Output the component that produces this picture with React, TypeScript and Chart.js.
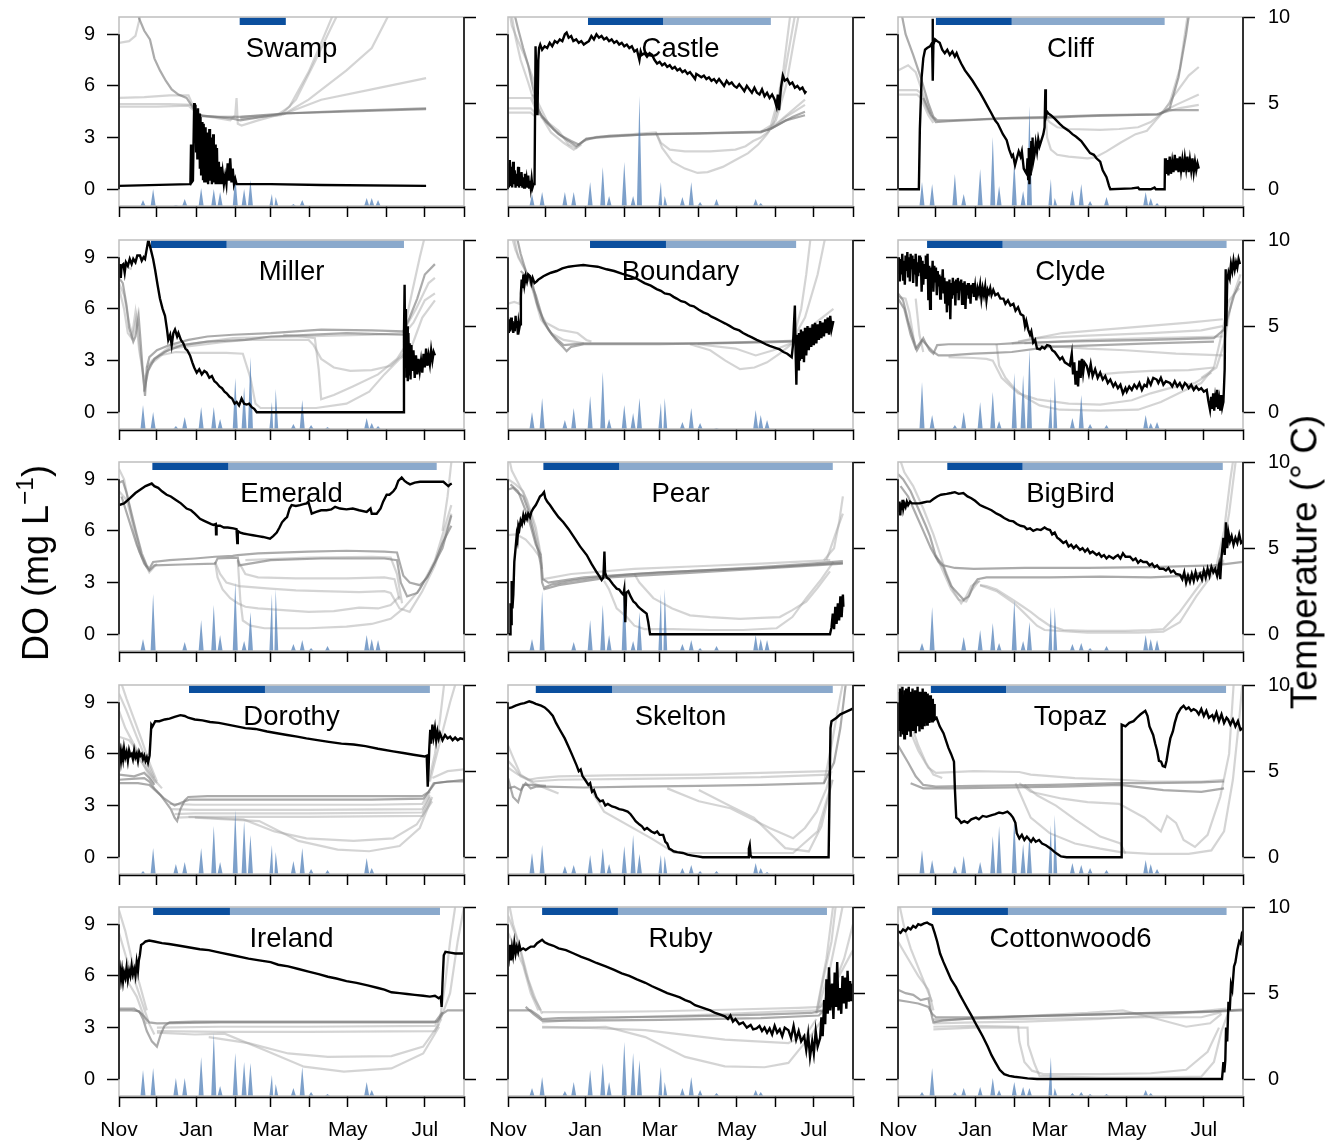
import React, { useEffect, useRef } from 'react';
import { Chart, registerables } from 'chart.js';

Chart.register(...registerables);

const FONT = '"Liberation Sans", Arial, Helvetica, sans-serif';

// ---------- axes / shared values ----------
const MONTH_TICKS = [0, 30, 61, 92, 120, 151, 181, 212, 242, 273];
const MONTH_LABELS = ['Nov', '', 'Jan', '', 'Mar', '', 'May', '', 'Jul', ''];
const DO_TICKS = [0, 3, 6, 9];
const TEMP_TICKS = [0, 5, 10];
const SPIKE_DAYS = [19, 27, 45, 52, 65, 75, 80, 92, 99, 104, 121, 124, 138, 145, 152, 165, 196, 200, 205];

// ---------- Swamp ----------
const SWAMP_ICE = [95.5, 132, 132];
const SWAMP_SPIKES = [6, 17, 1, 7, 18, 17, 14, 30, 17, 26, 12, 9, 2, 6, 0, 0, 8, 8, 6];
const SWAMP_DO = [[0,0.2],[56,0.3],[56.5,0.3],[57,2.6],[57.5,0.4],[58.5,0.5],[59.5,5.0],[60,3.5],[60.5,4.9],[61,2.2],[61.5,4.6],[62,1.8],[62.5,4.7],[63,2.5],[63.5,4.4],[64,1.2],[64.5,4.2],[65,0.8],[66,3.9],[66.5,0.6],[67,3.8],[67.5,0.4],[68.5,3.6],[69,0.4],[70,3.3],[70.5,0.3],[71.5,3.5],[72,0.5],[73,3.0],[73.5,0.3],[74.5,3.2],[75,0.4],[76,2.6],[76.5,0.3],[77.5,2.4],[78,0.3],[79,1.6],[79.5,0.3],[80.5,1.3],[81,0.3],[82,1.0],[83,0.3],[84,0.8],[85,0.3],[86,1.5],[87,0.5],[88,1.8],[89,0.4],[90,1.2],[91,0.3],[92,0.6],[93,0.3],[120,0.3],[160,0.25],[243,0.2]];
const SWAMP_TEMP_DARK = [
  [[10,11],[15,10.3],[16,9.9],[20,9.2],[24.5,8.7],[28,7.6],[32.4,6.9],[37,6.3],[41.7,5.8],[47,5.5],[53.5,5.3],[58,4.8],[61.5,4.4],[66,4.25],[80,4.2],[96,4.2],[130,4.4],[180,4.55],[243,4.7]],
  [[62,4.3],[90,4.1],[96,4.0],[130,4.4],[243,4.65]]
];
const SWAMP_TEMP_LIGHT = [
  [[0,8.5],[8,8.6],[13,8.9],[16,9.8],[18,10.6]],
  [[0,5.3],[20,5.35],[40,5.45],[55,5.45],[60,4.6],[64,4.3]],
  [[0,4.8],[30,4.8],[55,4.85],[62,4.4]],
  [[0,4.95],[40,4.95],[58,4.9],[63,4.3]],
  [[64,4.3],[88,4.0],[92,4.3],[93,5.3],[94,3.8],[97,3.7],[110,4.0],[130,4.4]],
  [[96,4.1],[125,4.3],[135,4.8],[150,6.8],[160,8.5],[172,10.6]],
  [[96,4.1],[128,4.3],[140,5.2],[155,7.4],[168,9.4],[176,10.6]],
  [[96,4.2],[130,4.35],[150,5.2],[180,6.9],[200,8.2],[214,10.2]],
  [[130,4.35],[160,5.2],[200,5.8],[243,6.45]]
];

// ---------- Castle ----------
const CASTLE_ICE = [63.3, 122.7, 208];
const CASTLE_SPIKES = [12, 14, 14, 14, 24, 39, 10, 44, 10, 110, 24, 10, 9, 24, 4, 7, 7, 3, 0];
const CASTLE_DO = [[0,1.5],[0.7,0.1],[1.4,1.7],[2,0.2],[2.7,1.3],[3.3,0.1],[4,1.6],[4.6,0.3],[5.3,1.1],[6,0.1],[6.7,0.9],[7.4,0.2],[8,1.3],[8.7,0.1],[9.4,0.8],[10,0.2],[10.7,1.0],[11.4,0.1],[12,0.7],[12.7,0.1],[13.4,0.9],[14,0.2],[14.7,0.6],[15.4,0.1],[16,0.8],[16.7,0.1],[17.4,0.5],[18,0.1],[18.7,0.6],[19.4,0.1],[20.2,0.3],[21,0.3],[21.8,8.3],[22.6,6.0],[23.3,4.3],[24,7.5],[24.6,8.2],[25.5,8.4],[27,8.1],[29,8.3],[31,8.2],[33,8.5],[35,8.3],[37,8.6],[39,8.5],[41,8.7],[43,8.6],[45,9.0],[46.4,9.1],[48,8.8],[50,8.9],[51.7,8.6],[54,8.7],[56,8.5],[58,8.6],[60,8.4],[62,8.5],[64,8.6],[66,8.9],[68,8.7],[70,9.0],[72,8.8],[74,8.9],[76,8.7],[78,8.8],[80,8.6],[82,8.7],[84,8.5],[86,8.6],[88,8.4],[90,8.5],[92,8.3],[94,8.4],[96,8.2],[98,8.3],[100,8.0],[102,8.1],[104,7.5],[105,8.0],[106,7.8],[108,7.9],[110,7.7],[112,7.9],[114,7.8],[116,7.5],[118,7.3],[120,7.4],[122,7.2],[124,7.3],[126,7.1],[128,7.2],[130,7.0],[132,7.1],[134,6.9],[136,7.0],[138,6.8],[140,6.9],[142,6.7],[144,6.8],[146,6.6],[148,6.4],[149,6.7],[151,6.6],[153,6.5],[155,6.6],[157,6.4],[159,6.5],[161,6.3],[163,6.4],[165,6.2],[167,6.4],[169,6.2],[171,6.0],[173,6.3],[175,6.1],[177,6.2],[179,6.0],[181,5.9],[183,6.1],[185,5.9],[187,5.7],[189,6.0],[191,5.8],[193,5.6],[195,5.9],[197,5.6],[199,5.5],[201,5.8],[203,5.4],[205,5.6],[207,5.3],[209,5.5],[211,5.2],[212.5,4.8],[213.5,5.5],[214.5,4.6],[216,5.9],[217.5,6.6],[219,6.3],[221,6.4],[223,6.1],[225,6.2],[227,5.9],[229,6.0],[231,5.8],[233,5.9],[235,5.6],[236,5.7]];
const CASTLE_TEMP_DARK = [
  [[4,10.5],[8,9.3],[12,8.2],[16,7.2],[20,5.8],[23,4.9],[26,4.3],[30,4.0],[36,3.5],[42,3.1],[46,2.9],[50,2.7],[54,2.5],[58,2.7],[62,2.9],[70,3.0],[90,3.1],[110,3.2],[150,3.25],[200,3.35],[208,3.5],[220,4.0],[235,4.3]],
  [[20,5.5],[24,4.6],[30,3.9],[40,3.2],[50,2.8],[56,2.6],[62,2.95],[80,3.1],[120,3.2],[200,3.3],[210,3.6],[225,4.2],[235,4.5]]
];
const CASTLE_TEMP_LIGHT = [
  [[0,10.8],[3,9.5],[8,8.6],[14,7.6],[20,6.4],[24,5.0],[32,3.8]],
  [[2,10.5],[6,8.8],[10,7.5],[16,6.2],[21,5.0],[25,4.4],[34,3.3],[44,2.7],[52,2.3],[58,2.6]],
  [[0,5.3],[18,5.3],[21,4.8],[25,4.3]],
  [[0,4.7],[18,4.7],[22,4.4]],
  [[0,4.45],[18,4.45],[22,4.2]],
  [[26,4.2],[40,3.4],[48,2.6],[54,2.4],[60,2.8],[70,3.05],[117,3.3],[121,2.7],[128,2.3],[140,2.2],[160,2.2],[180,2.3],[188,2.5],[194,2.8],[200,3.0],[207,3.4]],
  [[117,3.3],[122,2.4],[130,1.6],[140,1.2],[150,0.95],[158,1.0],[170,1.3],[180,1.7],[190,2.1],[198,2.6],[205,3.2],[210,3.8],[216,5.5],[222,8],[228,10.5]],
  [[200,3.35],[208,3.7],[213,5],[218,7],[224,10.5]],
  [[205,3.4],[212,4.0],[220,6],[226,8.5],[231,10.5]],
  [[208,3.5],[220,4.2],[235,4.9]],
  [[206,3.4],[222,4.4],[235,5.2]]
];

// ---------- Cliff ----------
const CLIFF_ICE = [30, 90, 211];
const CLIFF_SPIKES = [24, 22, 32, 12, 37, 69, 20, 46, 15, 100, 27, 8, 16, 22, 5, 9, 14, 8, 3];
const CLIFF_DO = [[0,0],[16.5,0],[17.3,3.5],[18.7,6.5],[20,7.6],[21.4,8.1],[23,8.2],[25.3,8.3],[27,8.5],[27.4,9.9],[27.6,6.3],[28,8.4],[29.3,8.7],[31,8.6],[33,8.5],[35,8.1],[37,7.9],[39,8.1],[41,7.8],[43,8.0],[45,7.7],[46.4,7.9],[48,7.6],[50,7.3],[53,6.9],[56,6.6],[59,6.3],[62,5.95],[65,5.6],[68,5.2],[71,4.8],[74,4.4],[76.8,4.0],[79,3.8],[81,3.5],[83,3.2],[86,2.85],[88,2.3],[90,1.9],[91,2.0],[92.6,1.4],[94,1.8],[95.5,2.2],[97,1.9],[98,2.2],[99.5,1.2],[101,1.0],[101.8,0.9],[102.5,1.8],[103,0.6],[103.5,2.4],[104,0.3],[104.5,2.0],[105,0.8],[105.5,2.8],[106,1.4],[106.5,3.0],[107,1.6],[108,2.0],[109,2.7],[110,2.2],[111,2.9],[112,2.5],[113.7,2.9],[115,3.2],[116,3.6],[116.6,5.8],[117,4.2],[118,4.5],[119,4.4],[121,4.3],[124,4.1],[128,3.8],[131,3.6],[135,3.4],[138,3.2],[141,3.05],[145,2.8],[148,2.5],[152,2.1],[155,2.0],[157,1.8],[160,1.6],[162,1.1],[165,0.7],[167,0.2],[168,0],[185,0.05],[190,0.1],[191,0.0],[200,0],[203,0.1],[204,0],[211,0],[211.3,1.8],[212,0.9],[213,1.7],[214,0.8],[215,1.9],[216,0.9],[217,1.6],[218,1.0],[219,2.0],[220,1.1],[221,1.8],[222,1.0],[223,1.9],[224,1.1],[225,1.7],[226,1.0],[227,1.8],[228,1.2],[229,1.9],[230,1.0],[231,1.7],[232,1.1],[233,1.8],[234,1.0],[235,1.6],[236,1.1],[237,1.5],[238,1.2]];
const CLIFF_TEMP_DARK = [
  [[2,10.5],[6,9.0],[12,7.8],[18,6.5],[24,5.0],[28,4.2],[31,4.0],[40,4.0],[60,4.05],[90,4.15],[120,4.2],[160,4.3],[207,4.35],[215,4.7],[222,6.5],[228,9],[231,10.5]],
  [[20,5.3],[26,4.3],[30,3.9],[40,3.95],[80,4.1],[117,4.15],[150,4.25],[205,4.35],[215,4.6],[238,4.6]]
];
const CLIFF_TEMP_LIGHT = [
  [[0,6.9],[8,7.2],[14,6.8],[20,5.5],[26,4.4]],
  [[0,5.75],[15,5.75],[18,5.6],[24,4.5],[30,4.0]],
  [[0,5.5],[15,5.5],[18,5.3],[24,4.3],[28,3.85]],
  [[117,4.2],[120,3.9],[126,3.6],[135,3.5],[160,3.45],[175,3.5],[190,3.6],[200,3.9],[207,4.3],[215,5.0],[223,7],[230,10.5]],
  [[117,4.2],[118,3.0],[121,2.3],[126,2.0],[135,1.9],[150,1.8],[156,1.85],[165,2.2],[176,2.7],[188,3.2],[197,3.4],[204,4.0],[210,4.5],[218,5.4],[230,6.6],[238,7.1]],
  [[207,4.4],[220,4.9],[238,5.5]],
  [[208,4.4],[222,4.7],[238,4.9]]
];

// ---------- Miller ----------
const MILLER_ICE = [25.3, 85.2, 225.5];
const MILLER_SPIKES = [24, 17, 3, 12, 22, 22, 10, 51, 42, 72, 27, 40, 5, 29, 4, 2, 11, 6, 3];
const MILLER_DO = [[0,7.9],[0.7,8.6],[1.4,7.8],[2,8.5],[3.4,8.6],[4.5,8.1],[5.5,8.7],[7,8.5],[8.5,8.9],[10,8.6],[11.3,8.9],[13,8.7],[14.5,9.1],[16.6,9.1],[18,8.8],[19.5,9.0],[20.6,8.9],[22,9.5],[23.2,10.0],[25,9.5],[27,8.9],[28.5,8.3],[30.5,7.4],[32.4,6.6],[34.5,6.0],[36.4,5.6],[38,4.8],[39,4.2],[40.5,4.5],[41.7,3.9],[43,4.6],[44.3,4.8],[46,4.4],[47,4.6],[49,4.2],[50.9,4.0],[52.5,3.7],[54,3.6],[56.2,3.3],[58,2.9],[59.5,2.6],[61.5,2.3],[63.5,2.5],[65.5,2.2],[67.5,2.4],[69.4,2.3],[71.5,2.0],[73.5,2.1],[75.5,1.8],[77.3,1.7],[79.5,1.5],[81.5,1.4],[83.5,1.2],[85.2,1.1],[87.5,0.9],[89.5,0.8],[91.5,0.5],[93.1,0.6],[95,0.4],[97,0.8],[99,0.5],[101,0.45],[103,0.5],[105,0.3],[107,0.2],[109,0],[225,0],[225.5,4.5],[226,7.4],[226.5,3.0],[227,6.0],[227.5,2.0],[228,5.0],[228.5,1.8],[229,4.6],[229.5,2.2],[230,4.0],[230.7,1.9],[231.4,3.9],[232,2.4],[233,3.6],[234,2.0],[235,3.3],[236,2.2],[237,3.1],[238,2.4],[239,3.0],[240,2.3],[241,3.4],[242,2.6],[243,3.7],[244,2.7],[245,3.3],[246,2.8],[247,3.6],[248,3.0],[249,3.5],[250,3.3]];
const MILLER_TEMP_DARK = [
  [[0,7.8],[3,7.5],[6,6.2],[8,4.9],[11.3,4.1],[13,4.4],[15.5,5.6],[17,4.2],[19,2.2],[20.6,0.95],[22,2.6],[24,3.2],[30,3.6],[40,3.9],[55,4.2],[70,4.4],[90,4.5],[120,4.6],[160,4.8],[200,4.75],[225,4.7],[230,5.5],[236,6.6],[242,8],[250,8.6]],
  [[20,1.2],[23,2.4],[28,3.1],[36,3.5],[50,3.9],[70,4.1],[100,4.2],[120,4.4],[180,4.6],[225,4.5]]
];
const MILLER_TEMP_LIGHT = [
  [[0,7.5],[4,6.8],[8,5.2],[11,4.4],[14,5.6],[16,4.0],[20,1.5],[24,2.8],[32,3.3],[45,3.5],[60,3.45],[85,3.45],[98,3.4],[104,2.0],[108,0.5],[112,0.25],[140,0.25],[156,0.25],[180,0.5],[198,1.2],[210,2.2],[222,3.1],[230,3.5],[240,5.5],[250,6.5]],
  [[22,2.6],[40,3.7],[80,4.05],[100,4.2],[150,4.2],[154,3.9],[160,3.1],[170,2.6],[183,2.4],[200,2.45],[215,2.7],[225,3.4]],
  [[130,4.5],[145,4.4],[155,4.3],[158,2.5],[160,0.75],[170,1.0],[185,1.5],[205,2.2],[220,3.1],[228,4.0]],
  [[0,8.2],[5,8.5],[10,8.3]],
  [[0,7.2],[4,6.0],[7,4.6],[10,4.3],[13,5.8],[16,3.6],[20,1.9],[26,3.0],[40,3.8],[90,4.3],[200,4.5],[225,4.6]],
  [[225,4.6],[232,7],[238,9],[243,10.5]],
  [[225,4.7],[235,6],[245,7.5],[250,7.8]],
  [[225,4.5],[233,5.2],[242,6.5],[250,6.9]]
];

// ---------- Boundary ----------
const BOUNDARY_ICE = [64.9, 125, 228];
const BOUNDARY_SPIKES = [17, 31, 9, 21, 33, 57, 10, 24, 16, 31, 26, 31, 7, 21, 6, 1, 19, 14, 9];
const BOUNDARY_DO = [[0,5.0],[0.6,4.6],[1.2,5.4],[1.8,4.7],[2.4,5.5],[3,4.8],[3.6,5.3],[4.2,4.6],[4.8,5.2],[5.4,4.7],[6,5.6],[6.6,4.9],[7.2,5.3],[7.8,4.5],[8.4,5.2],[9,4.9],[9.5,5.1],[10.2,6.9],[10.8,7.7],[11.5,7.2],[12.2,8.0],[13,7.4],[14,7.9],[15,7.6],[16,8.0],[17.4,7.9],[18.5,7.5],[19.5,7.8],[21,7.5],[22.7,7.6],[24,7.7],[26,7.8],[28,7.9],[31,8.0],[34,8.1],[38.5,8.2],[43,8.35],[48,8.45],[53,8.5],[59.6,8.55],[65,8.5],[71,8.45],[78,8.3],[84,8.2],[90,8.05],[96.5,7.9],[102,7.75],[108,7.5],[113,7.35],[117.6,7.15],[121,7.05],[124,6.9],[128,6.85],[131,6.7],[133.5,6.6],[137,6.45],[140,6.4],[144,6.2],[147,6.15],[151,5.95],[154.6,5.8],[158,5.7],[161,5.55],[164,5.45],[168,5.3],[172,5.15],[175.7,5.0],[179,4.85],[183,4.75],[186,4.6],[190,4.45],[193,4.35],[196.8,4.2],[200,4.1],[204,3.95],[207,3.85],[211,3.75],[215,3.65],[218,3.5],[221,3.4],[224.5,3.2],[225.5,3.9],[226.2,5.0],[227,6.2],[227.6,3.5],[228.2,1.6],[228.8,4.5],[229.5,2.5],[230.2,4.6],[231,3.0],[231.8,4.8],[232.6,3.1],[233.4,4.7],[234.2,2.9],[235,4.9],[236,3.3],[237,5.0],[238,3.6],[239,4.9],[240,3.8],[241,5.1],[242,3.9],[243,5.2],[244,4.0],[245,5.1],[246,4.2],[247,5.3],[248,4.3],[249,5.2],[250,4.4],[251,5.4],[252,4.6],[253,5.5],[254,4.5],[255,5.6],[256,4.8],[257.5,5.3]];
const BOUNDARY_TEMP_DARK = [
  [[6,10.5],[10,9.2],[15,8.0],[19,7.6],[23,6.3],[27,5.5],[32,4.8],[38,4.2],[44,3.75],[46.4,3.55],[50,3.8],[60,3.95],[90,3.95],[120,3.95],[160,4.0],[200,4.05],[225,4.1]],
  [[10,8.2],[16,7.8],[22,6.8],[28,5.3],[35,4.5],[44,3.9],[60,4.0],[150,4.0],[225,4.15]]
];
const BOUNDARY_TEMP_LIGHT = [
  [[0,6.3],[5,6.4],[9,6.3],[14,8.0]],
  [[2,10.5],[6,9.4],[12,8.5],[18,7.6],[24,6.0],[30,5.2],[40,4.8],[55,4.6],[62,4.2],[66,4.1]],
  [[4,10.5],[8,9.0],[14,8.2],[20,7.0],[26,5.4],[34,4.6],[44,4.2],[60,4.0]],
  [[144,3.95],[160,3.6],[172,3.0],[183.6,2.5],[195,2.6],[205,2.9],[215,3.4],[225,4.0]],
  [[150,3.95],[180,3.7],[196,3.3],[210,3.6],[224,4.0]],
  [[225,4.1],[232,6],[236,8],[240,10.5]],
  [[225,4.2],[235,5.5],[245,8],[252,10.5]],
  [[225,4.0],[240,5.0],[257.5,6.0]]
];

// ---------- Clyde ----------
const CLYDE_ICE = [23, 82.8, 260];
const CLYDE_SPIKES = [47, 14, 4, 17, 27, 37, 8, 56, 54, 80, 32, 52, 11, 34, 5, 4, 14, 6, 7];
const CLYDE_DO = [[0,8.1],[0.7,9.0],[1.4,7.6],[2,8.9],[2.7,8.0],[3.4,9.2],[4,7.7],[4.7,8.8],[5.4,7.4],[6,9.1],[6.7,8.2],[7.4,9.3],[8,7.9],[8.7,9.0],[9.4,7.6],[10,9.2],[10.7,8.3],[11.4,9.1],[12,7.5],[12.7,8.9],[13.4,8.0],[14,9.2],[14.7,7.3],[15.4,8.7],[16,7.9],[16.7,9.1],[17.4,8.1],[18,9.0],[18.7,7.0],[19.4,8.8],[20,7.4],[20.7,8.6],[21.4,7.8],[22,9.1],[22.7,8.0],[23.4,9.2],[24,6.5],[24.7,8.5],[25.4,6.0],[26,8.4],[26.7,7.3],[27.4,8.8],[28,7.0],[28.7,8.5],[29.4,7.6],[30,8.4],[30.7,6.8],[31.4,8.2],[32,7.3],[32.7,8.0],[33.4,6.6],[34,7.9],[34.7,7.2],[35.4,8.3],[36,6.9],[36.7,7.8],[37.4,6.3],[38,7.6],[38.7,5.8],[39.4,7.5],[40,6.2],[40.7,7.7],[41.4,5.4],[42,7.5],[42.7,6.6],[43.4,7.8],[44,6.8],[44.7,7.6],[45.4,6.2],[46,7.7],[46.7,7.0],[47.4,7.8],[48,6.5],[48.7,7.6],[49.4,7.1],[50,7.7],[50.7,6.3],[51.4,7.5],[52,6.9],[52.7,7.6],[53.4,6.0],[54,7.4],[54.7,6.8],[55.4,7.5],[56,6.6],[56.7,7.3],[57.4,6.3],[58,7.4],[58.7,6.9],[59.4,7.5],[60,6.7],[61,7.3],[62,6.5],[63,7.2],[64,6.9],[65,7.4],[66,6.6],[67,7.2],[68,6.8],[69,7.3],[70,6.5],[71,7.1],[72,6.9],[73,7.2],[74,6.8],[75.4,7.1],[77,6.8],[79,6.9],[81,6.6],[83.4,6.6],[85,6.3],[87,6.5],[89,6.2],[91.3,6.3],[93,5.9],[95,6.1],[97,5.7],[99.2,5.6],[100.5,5.0],[101.5,5.3],[103,4.8],[104.5,4.5],[105.5,4.7],[107,4.05],[108.5,4.2],[110,3.7],[112.4,3.65],[114,3.8],[116,3.7],[118,3.9],[120.3,3.85],[122,3.6],[124,3.5],[126,3.3],[128.2,3.07],[130,3.2],[132,2.9],[134,2.8],[136,2.7],[137.5,3.4],[138.5,2.2],[139.5,2.9],[140.5,1.6],[141.4,2.4],[142.5,1.5],[143.5,3.0],[144.5,2.0],[145.5,3.1],[146.5,2.3],[147.5,2.9],[149.3,2.7],[151,2.2],[152.5,2.8],[154,2.1],[156,2.5],[158,2.0],[160,2.3],[162,1.9],[164,2.1],[166,1.7],[168,1.9],[170.4,1.5],[172,1.7],[174,1.4],[176,1.6],[178,1.1],[180,1.4],[181,1.2],[183,1.5],[185,1.3],[187,1.6],[189,1.4],[191,1.7],[193,1.3],[195,1.6],[196.8,1.5],[198,1.9],[200,1.6],[202,2.0],[204.7,1.9],[206,1.7],[208,2.0],[210,1.6],[212,1.8],[215.2,1.7],[217,1.5],[219,1.8],[221,1.5],[223,1.7],[225,1.4],[227,1.7],[228.4,1.6],[230,1.4],[232,1.6],[234,1.3],[236,1.5],[238,1.3],[240,1.4],[242,1.2],[244.3,1.3],[245.5,0.7],[246.9,0.15],[247.8,0.9],[248.6,0.2],[249.4,1.1],[250.2,0.1],[251,0.8],[251.8,0.3],[252.6,1.3],[253.4,0.2],[254.2,0.7],[255,0.1],[255.8,1.0],[256.6,0.3],[257.5,0.6],[258.5,2.5],[259.3,8.3],[259.8,5.0],[260.5,7.6],[261.5,8.1],[262.5,7.8],[263.5,8.6],[264.5,8.2],[265.5,8.8],[266.5,8.3],[267.5,8.7],[268.5,8.4],[269.5,8.9],[270.6,8.6]];
const CLYDE_TEMP_DARK = [
  [[0,6.9],[4,6.5],[8,5.3],[12,4.3],[15,3.6],[18,4.0],[20,4.3],[22,4.0],[25,3.6],[28,3.4],[31,3.9],[40,3.95],[60,3.95],[78,3.95],[90,4.0],[130,4.1],[200,4.2],[250,4.3],[258,4.8],[266,6.8],[271,7.6]],
  [[0,6.6],[5,6.0],[10,4.5],[14,3.7],[19,4.2],[24,3.8],[28,3.5],[32,3.3],[40,3.3],[60,3.4],[75,3.45],[90,3.5],[120,3.8],[200,4.0],[250,4.1]]
];
const CLYDE_TEMP_LIGHT = [
  [[0,6.7],[6,6.6],[9,5.8],[13,4.0]],
  [[14,6.6],[17,4.5],[20,3.5]],
  [[78,3.95],[80,2.7],[85,2.0],[92,1.4],[100,0.9],[112,0.4],[128,0.15],[160,0.1],[190,0.15],[208,0.6],[225,1.2],[240,1.7],[250,2.6],[256,4.5],[262,6.5],[270,7.2]],
  [[40,3.2],[60,3.15],[70,3.1],[75,3.0],[82,2.0],[95,1.1],[110,0.75],[135,0.5],[160,0.45],[185,0.7],[200,1.1],[215,1.4],[235,1.7],[248,2.3]],
  [[90,4.0],[110,4.3],[150,4.45],[200,4.6],[240,4.75],[257,5.0]],
  [[95,4.1],[130,4.6],[180,4.9],[230,5.2],[257,5.4]],
  [[100,4.0],[150,4.2],[200,4.3],[257,4.4]],
  [[110,3.9],[150,3.7],[180,3.6],[220,3.4],[257,3.3]],
  [[160,2.2],[175,2.3],[200,2.4],[230,2.45],[250,2.6]],
  [[240,2.0],[252,2.6],[258,4],[264,6.5],[271,8.0]]
];

// ---------- Emerald ----------
const EMERALD_ICE = [26.4, 86.5, 251.4];
const EMERALD_SPIKES = [12, 57, 0, 9, 31, 46, 16, 69, 10, 39, 57, 62, 7, 11, 3, 5, 16, 12, 11];
const EMERALD_DO = [[0,7.5],[4,7.6],[8.7,7.9],[13,8.2],[17,8.4],[21,8.6],[25.9,8.75],[28,8.6],[31,8.5],[34,8.3],[37.7,8.1],[41,8.0],[45,7.8],[49,7.6],[53.5,7.3],[57,7.2],[60,7.0],[64.1,6.7],[67,6.6],[70,6.5],[73,6.4],[74.7,6.35],[76.6,6.4],[76.8,5.8],[77.2,6.3],[80,6.3],[83,6.2],[86,6.2],[90.5,6.15],[93,6.1],[93.6,5.3],[94,6.0],[96,5.9],[98.4,5.85],[102,5.8],[106,5.75],[110,5.7],[114,5.65],[117,5.6],[119.5,5.55],[122,5.7],[124.8,5.9],[127,6.2],[129,6.5],[131.4,6.7],[133,6.8],[135,7.3],[136.6,7.5],[140,7.45],[143.2,7.5],[146,7.55],[148.5,7.6],[149.8,7.7],[151,7.4],[152.5,7.0],[156,7.1],[160,7.2],[164.3,7.2],[168,7.25],[171,7.4],[174.9,7.3],[180,7.25],[185,7.3],[190,7.2],[196,7.1],[199,7.3],[200,7.0],[203.9,7.0],[207,7.3],[209,7.7],[211.8,8.1],[214,8.1],[217.1,8.3],[219,8.5],[221,8.9],[223.7,9.1],[226,8.9],[228,8.8],[230.3,8.7],[234,8.8],[238.2,8.85],[244,8.85],[250,8.85],[256.7,8.85],[259,8.7],[260.6,8.6],[262,8.7],[263.3,8.75]];
const EMERALD_TEMP_DARK = [
  [[0,8.8],[3,8.9],[6,8.2],[10,7.0],[14,5.8],[18,4.7],[21.9,4.0],[24,3.8],[27,4.2],[40,4.3],[60,4.4],[76,4.5],[90,4.55],[94,4.6],[110,4.7],[150,4.8],[180,4.85],[210,4.8],[220,4.75],[222,4.2],[225,3.4],[230,3.0],[238,2.85],[244,3.3],[250,4.2],[256,5.3],[263,6.3]],
  [[2,8.0],[8,6.6],[14,5.2],[20,4.1],[24,3.7],[28,4.0],[50,4.05],[76,4.1],[78,4.4],[94,4.45],[95,4.0],[120,4.3],[160,4.4],[210,4.4],[220,4.3],[223,3.0],[228,2.2],[236,2.4],[246,3.6],[256,5.0],[263,6.9]]
];
const EMERALD_TEMP_LIGHT = [
  [[0,9.6],[4,9.0],[8,7.5],[12,6.0],[16,4.8],[22,3.9]],
  [[0,8.3],[6,7.8],[12,6.2],[18,4.5],[24,3.6],[30,4.1]],
  [[76,4.2],[80,3.5],[85,3.0],[95,2.8],[119.5,2.65],[140,2.55],[160,2.5],[190,2.45],[210,2.5],[215,2.4],[222,1.5],[230,1.3],[240,2.5],[250,4.0],[258,5.8],[263,7.0]],
  [[76,4.2],[78,3.3],[82,2.6],[88,2.1],[94,1.8],[100,1.6],[110,1.5],[130,1.4],[150,1.3],[170,1.35],[190,1.55],[205,1.5],[215,1.7],[222,2.2]],
  [[94,4.3],[96,2.0],[98,0.8],[104,0.5],[115,0.35],[150,0.35],[180,0.45],[200,0.6],[215,0.9],[225,1.5],[238,2.6],[250,4.3],[263,7.5]],
  [[94,4.3],[100,3.5],[110,3.3],[140,3.25],[180,3.25],[210,3.3],[218,3.2],[222,2.0]],
  [[100,4.3],[150,4.45],[200,4.5],[215,4.45],[220,3.5],[224,1.8]],
  [[256,6],[260,8],[263,10]]
];

// ---------- Pear ----------
const PEAR_ICE = [28, 88, 257];
const PEAR_SPIKES = [12, 60, 0, 9, 31, 46, 16, 69, 10, 39, 57, 62, 7, 11, 3, 5, 16, 12, 11];
const PEAR_DO = [[0,0],[1.6,0],[2,1.8],[2.5,0.6],[2.9,3.1],[3.5,1.5],[4.2,2.3],[5,4.2],[6,5.0],[6.9,5.75],[7.5,5.5],[8.2,6.3],[9,6.1],[10,6.6],[11,6.4],[12.1,6.9],[13,6.6],[14,6.9],[15,6.7],[16,7.0],[17.4,6.8],[18.5,7.1],[20,7.3],[22,7.5],[24,7.8],[25.3,8.0],[27,8.1],[28.5,8.25],[29.5,7.9],[31,7.7],[33.2,7.5],[36,7.2],[40,6.8],[43.8,6.5],[48,6.1],[53,5.55],[57,5.1],[62.3,4.6],[66,4.1],[70.2,3.6],[72,3.4],[74.1,3.15],[75.5,3.3],[76.3,4.8],[76.8,3.6],[78.1,3.3],[80,3.2],[83,2.9],[86,2.65],[88,2.6],[90,2.4],[91.3,2.3],[92,2.6],[92.8,0.7],[93.5,2.4],[95.2,2.5],[97,2.2],[99.2,1.9],[101,1.8],[103,1.6],[104.5,1.5],[107,1.35],[109.7,1.2],[111,0.7],[112.4,0],[254.8,0],[256,0.4],[257,1.2],[258,0.3],[259,1.6],[260,0.6],[261,1.8],[262,0.8],[263,2.2],[264,1.0],[265,2.3],[265.4,1.6]];
const PEAR_TEMP_DARK = [
  [[0,8.4],[4,8.5],[8,8.2],[12,8.0],[16,7.2],[20,6.0],[24,4.8],[26,4.0],[27,3.0],[28.5,2.7],[35,2.9],[50,3.1],[70,3.3],[100,3.5],[150,3.7],[200,3.9],[240,4.1],[265,4.25]],
  [[2,8.7],[8,8.3],[16,6.8],[22,5.2],[26,4.6],[27.5,3.2],[32,3.0],[60,3.3],[120,3.6],[200,3.85],[265,4.15]],
  [[28,2.6],[40,2.85],[80,3.3],[140,3.55],[220,3.9],[265,4.1]]
];
const PEAR_TEMP_LIGHT = [
  [[0,10.5],[3,9.5],[8,8.8],[15,7.8],[22,6.2],[26,4.6]],
  [[0,9.0],[6,8.7],[12,8.3],[18,7.0],[24,5.2],[27,3.8]],
  [[0,5.75],[6,5.8],[9,5.7],[14,5.5],[20,5.0],[26,4.4]],
  [[28,3.2],[50,3.5],[100,3.8],[150,3.95],[200,4.1],[255,4.3]],
  [[100,3.5],[104,3.0],[115,2.1],[130,1.5],[144,1.1],[160,1.0],[183.6,0.9],[200,0.95],[215,1.0],[225,1.4],[236,1.9],[245,2.7],[254.8,3.65]],
  [[76,3.1],[80,2.6],[86,1.5],[94,1.0],[100,0.5],[108,0.3],[130,0.3],[160,0.25],[186,0.25],[212.6,0.35],[225,1.0],[236,2.1],[248,3.2],[257.5,4.2]],
  [[250,4.3],[258,5.0],[262,6.5],[265,8.0]],
  [[252,4.3],[260,6.0],[265,7.0]]
];

// ---------- BigBird ----------
const BIGBIRD_ICE = [39, 98.6, 257];
const BIGBIRD_SPIKES = [8, 44, 0, 14, 21, 28, 8, 51, 10, 29, 44, 44, 7, 8, 3, 5, 16, 12, 11];
const BIGBIRD_DO = [[0,7.5],[0.6,7.1],[1.2,7.7],[1.8,6.9],[2.4,7.6],[3,7.2],[3.6,7.8],[4.2,7.3],[5,7.6],[6,7.4],[7,7.7],[8,7.5],[9.5,7.7],[11,7.6],[13,7.6],[14.8,7.6],[17,7.6],[20,7.65],[23,7.7],[25.3,7.7],[28,7.85],[31,8.0],[34,8.1],[38.5,8.15],[42,8.2],[45,8.25],[48,8.15],[51.7,8.2],[55,8.0],[58,7.9],[61,7.75],[64.9,7.5],[68,7.4],[71,7.3],[74,7.2],[78.1,7.0],[81,6.9],[84,6.75],[88,6.6],[91.3,6.55],[94,6.4],[97,6.3],[100,6.25],[102,6.1],[104.5,6.15],[107,6.0],[110,6.1],[113,6.05],[116,6.2],[118,6.1],[120.3,6.05],[122,5.8],[124,5.9],[126,5.6],[128,5.5],[130.8,5.3],[133,5.4],[135,5.1],[137,5.2],[139,5.0],[141,5.15],[144,4.9],[146,5.0],[148,4.8],[150,4.95],[152,4.7],[154,4.8],[157.2,4.6],[159,4.7],[161,4.5],[163,4.6],[165,4.4],[167,4.55],[170.4,4.4],[172,4.5],[174,4.6],[176,4.4],[178,4.7],[180,4.5],[183.6,4.5],[186,4.3],[188,4.4],[190,4.15],[192,4.3],[194,4.2],[196.8,4.2],[199,4.0],[201,4.1],[203,3.9],[205,4.0],[207,3.8],[210,3.8],[212,3.7],[214,3.85],[216,3.6],[218,3.7],[220,3.5],[223.2,3.45],[225,3.2],[226.5,3.6],[228,3.0],[229.5,3.4],[231,3.05],[232.5,3.5],[234,3.1],[235.5,3.6],[237,3.2],[239,3.5],[240.5,3.2],[242,3.7],[243.5,3.3],[245,3.8],[246.5,3.4],[248,3.9],[249.5,3.6],[251,3.8],[252.5,3.4],[254,4.0],[255,3.2],[256,4.5],[257.5,5.6],[258.5,4.6],[259.5,6.5],[260.5,5.0],[261.5,5.9],[262.7,5.4],[264,5.7],[265.5,5.2],[267,5.6],[268.5,5.3],[270,5.8],[271.5,5.3],[273,5.4]];
const BIGBIRD_TEMP_DARK = [
  [[0,9.3],[4,9.0],[10,8.3],[16,7.3],[22,6.3],[25.3,5.7],[30,4.5],[35.9,4.0],[45,3.85],[60,3.8],[100,3.85],[150,3.85],[200,3.9],[250,4.0],[262,4.1],[273,4.2]],
  [[2,8.6],[8,8.0],[14,7.0],[20,6.0],[26,5.0],[32,4.2],[36,3.9],[38,3.5],[42,2.8],[47,2.4],[52,2.0],[56,2.2],[60,2.9],[63,3.2],[70,3.3],[120,3.3],[160,3.35],[200,3.3],[230,3.4],[245,3.7],[255,4.0]]
];
const BIGBIRD_TEMP_LIGHT = [
  [[0,10.5],[5,9.4],[12,8.6],[20,7.3],[28,5.8],[34,4.5],[38,3.6],[44,2.5],[50,1.8],[54,2.2],[58,2.8],[64.9,3.1]],
  [[30,4.6],[36,3.6],[42,2.6],[48,2.0],[54,1.9],[58,2.5],[64,3.1]],
  [[64.9,2.85],[70,2.8],[78,2.6],[91,2.0],[99,1.6],[105,1.3],[112,0.9],[120,0.5],[130.8,0.25],[150,0.2],[180,0.2],[200,0.25],[210,0.3],[223,1.3],[236,2.6],[248,3.8],[258,4.3]],
  [[64.9,2.85],[78,2.5],[92,1.8],[99,1.3],[110,0.5],[116,0.25],[150,0.1],[190,0.1],[210,0.15],[223,0.7],[236,2.2],[250,3.6],[258,4.2]],
  [[252,4.0],[258,6],[263,9],[266,10.5]],
  [[255,4.2],[262,7],[268,10.5]]
];

// ---------- Dorothy ----------
const DOROTHY_ICE = [55.4, 115.5, 246];
const DOROTHY_SPIKES = [3, 26, 10, 12, 26, 48, 12, 64, 53, 39, 29, 22, 13, 26, 5, 4, 16, 6, 0];
const DOROTHY_DO = [[0,5.9],[0.8,6.2],[1.6,5.6],[2.4,6.1],[3.2,5.7],[4,6.3],[5,5.8],[6,6.1],[7,5.6],[8,6.2],[9,5.9],[10,6.0],[11,5.7],[12,6.2],[13,5.8],[14,6.0],[15,5.6],[16,6.1],[17,5.9],[18,6.0],[19,5.7],[20,5.9],[21,5.6],[22,5.8],[23,5.5],[24.2,5.9],[24.9,6.8],[25.6,7.7],[26.5,7.6],[28.7,7.9],[32,7.9],[36.2,8.0],[40,8.05],[44,8.15],[48.6,8.25],[52,8.2],[54.8,8.1],[60,8.0],[66,7.95],[72,7.85],[79,7.8],[86,7.7],[93,7.6],[100,7.5],[108,7.45],[117.2,7.3],[125,7.2],[133,7.1],[141,7.0],[148.3,6.9],[157,6.8],[166,6.7],[176,6.6],[185.7,6.55],[195,6.45],[205,6.3],[216.9,6.15],[225,6.05],[233,5.95],[241.8,5.85],[243.5,5.9],[244.3,4.1],[245,5.2],[245.5,6.3],[246.3,7.4],[247,6.6],[248,7.7],[249,7.0],[250,7.5],[251,6.8],[252,7.3],[253,6.9],[254,7.2],[256,6.8],[258,7.1],[260,6.9],[262,7.0],[264,6.8],[266,6.95],[268,6.8],[270,6.9],[273,6.85]];
const DOROTHY_TEMP_DARK = [
  [[0,4.5],[10,4.55],[20,4.6],[24,4.4],[28,4.0],[33,3.6],[37,3.2],[41,2.8],[44,2.3],[46,2.1],[48.6,2.8],[52,3.3],[54.8,3.5],[70,3.55],[120,3.55],[180,3.55],[240,3.55],[245,3.8],[249,4.3],[260,4.4],[273,4.4]],
  [[0,4.3],[15,4.3],[24,4.2],[30,3.8],[36,3.4],[44,3.0],[50,3.2],[56,3.35],[120,3.35],[200,3.35],[241,3.4],[246,3.9],[250,4.3],[273,4.5]],
  [[0,4.8],[12,4.7],[20,4.9],[24,4.6],[28,4.2]]
];
const DOROTHY_TEMP_LIGHT = [
  [[0,8.5],[5,7.5],[10,6.8],[16,6.0],[22,5.3],[28,4.5],[34,4.0]],
  [[0,7.0],[8,6.8],[14,6.2],[22,5.0],[28,4.3]],
  [[0,10.5],[6,9.2],[12,8.0],[18,6.8],[24,5.5],[30,4.4]],
  [[0,9.5],[6,8.5],[14,7.0],[22,5.6],[28,4.6]],
  [[0,6.2],[10,6.0],[18,5.5],[25,4.8],[30,4.3]],
  [[40,3.1],[60,3.05],[120,3.05],[200,3.05],[240,3.1],[246,3.8]],
  [[42,2.8],[60,2.75],[150,2.75],[240,2.8],[246,3.6]],
  [[44,2.5],[60,2.55],[150,2.55],[240,2.6],[246,3.5]],
  [[46,2.3],[60,2.35],[150,2.35],[240,2.4],[247,3.4]],
  [[55,2.35],[98.5,2.2],[123,1.5],[148.3,1.1],[185.7,0.95],[216.9,1.1],[235.5,1.9],[247.8,3.25]],
  [[60,2.3],[111,2.1],[142,0.95],[173,0.45],[198,0.35],[222,0.65],[238,1.7],[247.8,3.5]],
  [[245,4.4],[250,6],[254,8],[258,10.5]],
  [[246,4.4],[255,7],[262,9],[268,10.5]],
  [[248,4.6],[260,5.0],[273,5.1]]
];

// ---------- Skelton ----------
const SKELTON_ICE = [22, 82.3, 257];
const SKELTON_SPIKES = [21, 29, 8, 9, 19, 26, 10, 28, 39, 20, 19, 18, 6, 9, 3, 3, 11, 6, 2];
const SKELTON_DO = [[0,8.65],[3,8.7],[6,8.8],[10,8.9],[13,8.95],[16.8,9.05],[19,9.0],[22,8.9],[26.2,8.8],[29,8.7],[32,8.5],[35.5,8.2],[38,7.8],[41,7.4],[44.9,6.9],[48,6.4],[51,5.9],[54.2,5.35],[56,5.0],[57.5,5.1],[59,4.7],[61,4.5],[63.6,4.2],[65,4.3],[66.5,3.8],[68,3.9],[70,3.5],[72.9,3.25],[75,3.3],[77,3.0],[79,3.1],[82.3,2.95],[85,2.9],[88,2.8],[91,2.75],[94.7,2.65],[97,2.5],[99,2.3],[101,2.1],[104.1,1.9],[106,1.8],[108,1.6],[110,1.7],[113.4,1.5],[116,1.4],[118,1.5],[120,1.3],[122.8,1.3],[124.5,0.9],[126,0.8],[127.5,0.5],[129,0.45],[131,0.35],[134,0.3],[138.4,0.25],[142,0.15],[146,0.1],[150,0.05],[154,0],[190,0],[190.6,0.5],[191.3,0.7],[192,0.1],[193,0],[253.7,0],[254.5,4.0],[255.2,7.5],[256,7.9],[258,8.0],[260,8.1],[263,8.3],[266,8.4],[269,8.5],[272,8.6],[273,8.65]];
const SKELTON_TEMP_DARK = [
  [[0,4.0],[5,4.1],[10,3.9],[14,4.3],[18,4.0],[22,4.1],[30,4.1],[60,4.05],[100,4.1],[150,4.15],[200,4.2],[250,4.3],[258,5.5],[263,7.5],[268,10.5]],
  [[0,4.6],[4,3.5],[8,3.2],[12,4.2],[18,4.2],[30,4.15]]
];
const SKELTON_TEMP_LIGHT = [
  [[0,5.6],[5,5.2],[10,4.7],[16,4.5],[24,4.6],[40,4.7],[80,4.75],[150,4.8],[200,4.9],[254,5.0]],
  [[0,5.2],[8,4.8],[20,4.4],[40,4.5],[100,4.55],[200,4.65],[254,4.8]],
  [[0,6.5],[4,5.8],[10,4.8],[20,4.3],[30,4.0],[40,3.7]],
  [[126,4.0],[151,3.25],[176,2.85],[207,1.7],[225.6,1.1],[235,1.7],[244.3,2.65],[252,4.0],[256,5.0]],
  [[151,3.9],[175,3.0],[194.5,2.3],[210,1.2],[219.4,0.53],[238,0.34],[248,1.8],[256.8,4.5]],
  [[65,4.0],[76,2.65],[113.4,1.1],[132,0.25],[225.6,0.25],[245,1.5],[256.8,4.5]],
  [[250,4.3],[256,6.5],[262,9],[266,10.5]]
];

// ---------- Topaz ----------
const TOPAZ_ICE = [26, 85.5, 259.6];
const TOPAZ_SPIKES = [24, 14, 8, 18, 12, 38, 48, 56, 30, 39, 49, 59, 11, 9, 6, 4, 14, 10, 5];
const TOPAZ_DO = [[0,8.2],[0.5,9.6],[1,7.4],[1.5,9.8],[2,7.0],[2.5,9.5],[3,7.6],[3.5,9.9],[4,7.2],[4.5,9.4],[5,6.9],[5.5,9.7],[6,7.5],[6.5,9.8],[7,7.1],[7.5,9.3],[8,7.8],[8.5,9.9],[9,7.3],[9.5,9.6],[10,7.0],[10.5,9.2],[11,7.7],[11.5,9.8],[12,7.4],[12.5,9.5],[13,7.9],[13.5,9.7],[14,7.2],[14.5,9.4],[15,7.6],[15.5,9.9],[16,7.8],[16.5,9.3],[17,7.3],[17.5,9.6],[18,7.9],[18.5,9.2],[19,7.5],[19.5,9.8],[20,8.0],[20.5,9.4],[21,7.6],[21.5,9.6],[22,8.1],[22.5,9.3],[23,7.7],[23.5,9.5],[24,8.2],[24.5,9.1],[25,7.8],[25.5,9.4],[26,8.3],[26.5,9.0],[27,7.9],[27.5,9.2],[28,8.2],[28.5,8.9],[29,8.0],[30.5,8.1],[33,7.6],[36,7.2],[39.9,6.35],[42,6.0],[44.3,5.55],[45,4.0],[46.1,2.3],[48,2.2],[50,2.0],[52.4,2.1],[55,2.0],[58,2.2],[61.7,2.3],[64,2.2],[67,2.4],[70,2.35],[74.2,2.45],[77,2.5],[80,2.6],[83,2.55],[86.6,2.65],[89,2.5],[91,2.3],[92.9,2.0],[94,1.4],[96,1.1],[98,1.3],[100,1.0],[102,1.2],[105.3,0.9],[107,1.1],[109,0.9],[111.6,1.0],[114,0.8],[117,0.7],[120.9,0.5],[124,0.3],[127,0.15],[129,0.05],[133.4,0],[176.5,0],[177,7.7],[180,7.6],[183,7.8],[186.4,7.9],[189,8.1],[192,8.3],[195.7,8.5],[197.5,8.2],[199,7.6],[201.9,7.1],[203.5,6.6],[205,6.2],[206.5,5.6],[208.2,5.55],[209.5,5.3],[211.3,5.25],[212.5,5.6],[214,6.3],[215.5,6.9],[217.5,7.3],[219,7.8],[221,8.3],[223.8,8.65],[226,8.8],[228,8.6],[230,8.7],[232,8.5],[234,8.6],[236.2,8.5],[238,8.3],[240,8.6],[242,8.2],[244,8.5],[246,8.1],[248.7,8.25],[250,8.0],[252,8.4],[254,7.9],[256,8.3],[258,7.8],[260,8.1],[261.2,8.0],[263,7.7],[265,8.0],[267,7.6],[269,7.9],[271,7.4],[273,7.5]];
const TOPAZ_TEMP_DARK = [
  [[0,6.5],[8,5.5],[14,4.7],[20,4.2],[30,4.1],[60,4.15],[120,4.2],[175,4.3],[200,4.3],[240,4.35],[258,4.4]],
  [[10,4.3],[20,4.0],[40,4.0],[90,4.05],[130,4.1],[176,4.2],[210,3.9],[240,3.8],[258,4.0]]
];
const TOPAZ_TEMP_LIGHT = [
  [[0,10.5],[5,9.0],[10,7.8],[16,6.5],[22,5.5],[28,4.8],[35,4.6]],
  [[0,8.5],[8,7.6],[16,6.2],[24,5.2],[30,4.9],[60,5.0],[96,4.95],[105,4.8],[140,4.6],[176,4.5],[200,4.4],[240,4.4],[258,4.5]],
  [[96,4.3],[105,3.8],[130,3.4],[150,3.2],[175,3.1],[195,2.3],[208,1.5],[213,2.4],[220,2.0],[226,1.0],[235,0.6],[245,1.3],[255,3.5],[262,6],[266,10.5]],
  [[93,4.3],[105,2.3],[120,1.4],[140,0.8],[160,0.5],[176,0.3],[200,0.2],[230,0.2],[248,0.4],[258,1.5],[265,4.5],[270,8],[273,10.5]],
  [[100,4.2],[110,3.6],[125,3.0],[140,2.2],[160,1.2],[176,0.8],[180,0.2]]
];

// ---------- Ireland ----------
const IRELAND_ICE = [27, 87.8, 254];
const IRELAND_SPIKES = [26, 28, 18, 18, 39, 63, 10, 43, 34, 33, 21, 12, 8, 29, 4, 2, 14, 6, 0];
const IRELAND_DO = [[0,6.0],[0.8,6.4],[1.6,5.8],[2.4,6.3],[3.2,5.7],[4,6.2],[5,5.9],[6,6.5],[7,5.8],[8,6.3],[9,6.0],[10,6.6],[11,6.1],[12,6.4],[13,6.0],[14,6.8],[15,6.3],[15.7,6.9],[16.5,7.2],[17.5,7.8],[19.5,7.9],[21,8.0],[23.9,8.05],[28,8.0],[34,7.9],[39.6,7.85],[48,7.75],[56,7.65],[64,7.55],[71,7.5],[80,7.35],[90,7.2],[102.5,7.0],[111,6.9],[120,6.8],[126,6.65],[133.9,6.55],[142,6.4],[150,6.25],[158,6.1],[165.3,5.95],[172,5.85],[180,5.7],[188,5.6],[196.7,5.45],[205,5.3],[210,5.2],[215.6,5.05],[222,5.0],[228,4.95],[234,4.9],[240.7,4.85],[246,4.8],[250,4.85],[253,4.7],[254.6,4.8],[255.3,4.2],[256,5.6],[257,7.2],[258.3,7.4],[262,7.35],[266,7.3],[272.2,7.3]];
const IRELAND_TEMP_DARK = [
  [[0,4.0],[10,4.0],[16,3.95],[19,3.5],[22,2.8],[26,2.2],[30,1.9],[33,2.6],[36,3.1],[40,3.3],[60,3.35],[100,3.35],[160,3.35],[220,3.35],[252,3.35],[256,3.8],[260,4.0],[273,4.0]],
  [[0,4.1],[12,4.1],[18,3.8],[24,3.3],[30,3.25],[80,3.3],[150,3.3],[250,3.3],[256,3.9]]
];
const IRELAND_TEMP_LIGHT = [
  [[0,6.5],[5,5.9],[10,5.3],[14,4.8],[18,4.0],[22,3.2]],
  [[0,8.5],[6,7.0],[12,5.8],[18,4.5],[24,3.2],[28,2.6]],
  [[0,9.8],[5,8.6],[10,7.0],[16,5.6],[22,4.0]],
  [[30,3.0],[80,3.05],[150,3.05],[250,3.1],[255,3.6]],
  [[30,2.8],[80,2.75],[150,2.75],[250,2.8],[255,3.5]],
  [[71,2.45],[102.5,2.1],[133.9,1.5],[165.3,1.3],[215.6,1.35],[240.7,1.9],[253.3,3.2]],
  [[30,2.7],[60,2.6],[83.6,2.65],[115,1.7],[146.4,0.73],[177.9,0.44],[215.6,0.63],[240.7,1.5],[253.3,3.05]],
  [[254,3.5],[258,5.5],[262,8],[267,10.5]],
  [[255,3.6],[262,5],[268,8],[273,10]]
];

// ---------- Ruby ----------
const RUBY_ICE = [27, 87, 252.4];
const RUBY_SPIKES = [8, 19, 5, 14, 26, 33, 14, 54, 43, 36, 29, 14, 8, 19, 6, 3, 6, 4, 0];
const RUBY_DO = [[0,7.5],[0.8,7.1],[1.6,7.8],[2.4,6.9],[3.2,7.6],[4,7.2],[5,7.9],[6,7.3],[7,7.7],[8,7.4],[9,7.8],[10,7.5],[12,7.6],[14,7.5],[16,7.6],[18,7.7],[20.7,7.7],[23,7.9],[25,8.0],[27,8.1],[29,7.95],[32,7.85],[36,7.75],[40,7.6],[45.9,7.5],[52,7.3],[58,7.1],[64,6.95],[70,6.75],[77.3,6.55],[84,6.35],[90,6.15],[96,6.0],[102,5.8],[108.7,5.6],[114,5.4],[120,5.2],[126,5.0],[132,4.85],[136,4.75],[140.2,4.6],[144,4.5],[148,4.3],[152,4.2],[156,4.1],[160,4.0],[164,3.85],[168,3.75],[171.6,3.65],[174,3.5],[176,3.7],[178,3.35],[180,3.5],[183,3.2],[186,3.3],[189,3.0],[192,3.15],[194,2.9],[196.7,2.95],[199,3.1],[201,2.8],[203,3.0],[205,2.7],[207,2.95],[209,2.6],[211,3.1],[213,2.7],[215,2.9],[217,2.5],[219,3.0],[221.9,2.85],[224,2.4],[226,3.1],[228,2.3],[230,2.8],[232,2.2],[234.4,2.5],[236,1.7],[237.5,2.6],[239,1.3],[240.7,2.2],[242,1.5],[243.5,2.8],[245,1.9],[247,2.4],[248,3.6],[249,2.5],[250.2,4.6],[251,3.2],[252,5.8],[253,3.8],[254,6.5],[255,4.0],[256.4,5.55],[257.5,3.5],[258.5,6.2],[259.5,4.2],[260.5,6.8],[261.5,4.0],[262.7,5.3],[263.7,3.8],[264.7,6.0],[265.7,4.4],[266.7,5.9],[267.7,4.1],[268.7,6.3],[269.7,4.5],[270.7,5.7],[271.5,4.6],[272.2,5.55],[273,5.2]];
const RUBY_TEMP_DARK = [
  [[0,4.0],[10,4.0],[18,4.0],[24,3.7],[27,3.5],[40,3.55],[80,3.6],[140,3.65],[200,3.75],[240,3.85],[250,4.0],[255,4.1]],
  [[14,4.2],[20,3.8],[27,3.4],[60,3.4],[120,3.45],[200,3.55],[246,3.7],[250,4.0]]
];
const RUBY_TEMP_LIGHT = [
  [[0,10.5],[4,9.0],[10,7.5],[16,5.8],[22,4.6],[27,3.8]],
  [[0,8.5],[6,7.6],[12,6.6],[18,5.0],[24,4.0]],
  [[0,9.5],[8,8.0],[14,6.2],[20,4.8],[26,4.0]],
  [[27,3.3],[50,3.45],[100,3.6],[160,3.75],[220,3.95],[248,4.0]],
  [[27,3.9],[60,3.9],[120,3.95],[180,4.05],[230,4.15],[248,4.2]],
  [[27,3.05],[60,3.0],[108.7,2.85],[171.6,2.3],[221.9,2.1],[236,2.6],[244,3.5]],
  [[27,3.0],[60,3.0],[77.3,3.05],[108.7,2.45],[140.2,1.3],[171.6,0.75],[203,0.7],[221.9,0.95],[240.7,2.65],[250,3.6]],
  [[244,3.8],[250,6],[256,8],[260,10.5]],
  [[245,4.0],[255,6.5],[262,9],[266,10.5]],
  [[246,4.1],[258,5.5],[266,7.0],[273,9.0]],
  [[244,3.9],[252,7],[258,10.5]],
  [[248,4.2],[262,6],[273,7.5]]
];

// ---------- Cottonwood6 ----------
const COTTON_ICE = [27, 87, 260];
const COTTON_SPIKES = [4, 28, 4, 8, 9, 18, 6, 14, 9, 8, 39, 8, 3, 4, 2, 2, 6, 3, 0];
const COTTON_DO = [[0,8.6],[2,8.5],[4,8.7],[6,8.6],[8,8.8],[10,8.7],[12,8.9],[14,8.8],[16,9.0],[18,8.95],[20.7,9.05],[23,9.1],[25,9.0],[27,8.95],[29,8.5],[31,8.0],[33.3,7.3],[36,6.8],[39,6.3],[42,5.8],[45.9,5.35],[49,4.9],[52,4.5],[55,4.1],[58.5,3.65],[61,3.3],[64,2.9],[67,2.5],[71,1.9],[74,1.4],[77,1.0],[80.5,0.55],[84,0.3],[88,0.2],[92,0.15],[98,0.1],[102.5,0.05],[110,0.02],[256.4,0.02],[257.5,1.0],[258.2,0.4],[259,1.1],[259.6,3.0],[260.5,2.2],[261.5,4.5],[262.5,4.0],[263.5,5.5],[264.5,5.2],[265.9,6.55],[267,6.8],[268.5,7.5],[270,8.0],[271,7.9],[272.2,8.5],[273,8.6]];
const COTTON_TEMP_DARK = [
  [[0,5.2],[6,5.0],[12,4.9],[18,4.6],[24,4.7],[27,3.6],[28,3.3],[35,3.4],[60,3.55],[100,3.65],[150,3.75],[200,3.85],[250,3.95],[260,4.0],[273,4.05]],
  [[0,4.6],[8,4.5],[16,4.4],[24,4.2],[27,3.8],[30,3.6],[60,3.6],[120,3.7],[180,3.8],[240,3.9],[273,4.0]]
];
const COTTON_TEMP_LIGHT = [
  [[0,10.5],[5,8.8],[10,7.6],[16,6.5],[22,5.4],[27,4.5]],
  [[0,8.0],[8,7.0],[16,6.0],[24,5.2],[28,4.0]],
  [[28,3.25],[60,3.3],[100,3.35],[160,3.5],[220,3.8],[260,4.1]],
  [[28,3.05],[60,3.1],[95,3.05],[96,2.2],[100,1.0],[106,0.5],[115,0.3],[160,0.3],[200,0.35],[228,0.55],[245,1.6],[254,3.0]],
  [[28,2.9],[60,3.0],[102.5,3.0],[103,2.0],[108,0.9],[112,0.2],[160,0.1],[200,0.1],[240,0.15],[250,1.0],[256,2.8],[262,4.0]],
  [[28,3.4],[80,3.6],[150,3.85],[177.9,4.0],[200,3.6],[228,3.05],[247,3.25],[256,3.8]],
  [[28,3.5],[60,3.5],[100,3.5],[150,3.55],[200,3.6],[240,3.6],[256,3.9]]
];

// ---------- panel table ----------
const PANELS = [
  { name: 'Swamp', ice: SWAMP_ICE, spikes: SWAMP_SPIKES, dox: SWAMP_DO, dark: SWAMP_TEMP_DARK, light: SWAMP_TEMP_LIGHT },
  { name: 'Castle', ice: CASTLE_ICE, spikes: CASTLE_SPIKES, dox: CASTLE_DO, dark: CASTLE_TEMP_DARK, light: CASTLE_TEMP_LIGHT },
  { name: 'Cliff', ice: CLIFF_ICE, spikes: CLIFF_SPIKES, dox: CLIFF_DO, dark: CLIFF_TEMP_DARK, light: CLIFF_TEMP_LIGHT },
  { name: 'Miller', ice: MILLER_ICE, spikes: MILLER_SPIKES, dox: MILLER_DO, dark: MILLER_TEMP_DARK, light: MILLER_TEMP_LIGHT },
  { name: 'Boundary', ice: BOUNDARY_ICE, spikes: BOUNDARY_SPIKES, dox: BOUNDARY_DO, dark: BOUNDARY_TEMP_DARK, light: BOUNDARY_TEMP_LIGHT },
  { name: 'Clyde', ice: CLYDE_ICE, spikes: CLYDE_SPIKES, dox: CLYDE_DO, dark: CLYDE_TEMP_DARK, light: CLYDE_TEMP_LIGHT },
  { name: 'Emerald', ice: EMERALD_ICE, spikes: EMERALD_SPIKES, dox: EMERALD_DO, dark: EMERALD_TEMP_DARK, light: EMERALD_TEMP_LIGHT },
  { name: 'Pear', ice: PEAR_ICE, spikes: PEAR_SPIKES, dox: PEAR_DO, dark: PEAR_TEMP_DARK, light: PEAR_TEMP_LIGHT },
  { name: 'BigBird', ice: BIGBIRD_ICE, spikes: BIGBIRD_SPIKES, dox: BIGBIRD_DO, dark: BIGBIRD_TEMP_DARK, light: BIGBIRD_TEMP_LIGHT },
  { name: 'Dorothy', ice: DOROTHY_ICE, spikes: DOROTHY_SPIKES, dox: DOROTHY_DO, dark: DOROTHY_TEMP_DARK, light: DOROTHY_TEMP_LIGHT },
  { name: 'Skelton', ice: SKELTON_ICE, spikes: SKELTON_SPIKES, dox: SKELTON_DO, dark: SKELTON_TEMP_DARK, light: SKELTON_TEMP_LIGHT },
  { name: 'Topaz', ice: TOPAZ_ICE, spikes: TOPAZ_SPIKES, dox: TOPAZ_DO, dark: TOPAZ_TEMP_DARK, light: TOPAZ_TEMP_LIGHT },
  { name: 'Ireland', ice: IRELAND_ICE, spikes: IRELAND_SPIKES, dox: IRELAND_DO, dark: IRELAND_TEMP_DARK, light: IRELAND_TEMP_LIGHT },
  { name: 'Ruby', ice: RUBY_ICE, spikes: RUBY_SPIKES, dox: RUBY_DO, dark: RUBY_TEMP_DARK, light: RUBY_TEMP_LIGHT },
  { name: 'Cottonwood6', ice: COTTON_ICE, spikes: COTTON_SPIKES, dox: COTTON_DO, dark: COTTON_TEMP_DARK, light: COTTON_TEMP_LIGHT }
];

// ---------- layout & style ----------
const COL_LEFT = [119, 508, 898];
const ROW_TOP = [17, 240, 462, 685, 907];
const PW = 345;
const PH = 189;
const ML = 80, MR = 80, MT = 14, MB = 50;
const YMIN = -0.97, YMAX = 10;
const XMIN = 0, XMAX = 273;
const ICE_Y = 9.76;
const SPIKE_HALF = 2.0;
const SPIKE_MAX = 189;

const C_DO = '#000000';
const C_DARK = 'rgba(120,120,120,0.62)';
const C_LIGHT = 'rgba(160,160,160,0.45)';
const C_SPIKE = 'rgba(70,120,180,0.7)';
const C_ICE_DARK = '#0B4F9E';
const C_ICE_LIGHT = '#8AA9CC';
const C_FRAME = '#BEBEBE';

const xy = (arr) => arr.map((p) => ({ x: p[0], y: p[1] }));

function spikeSeries(heights) {
  const pts = [{ x: XMIN, y: 0 }];
  SPIKE_DAYS.forEach((d, i) => {
    const h = heights[i];
    if (!h) return;
    pts.push({ x: d - SPIKE_HALF, y: 0 }, { x: d, y: h }, { x: d + SPIKE_HALF, y: 0 });
  });
  pts.push({ x: XMAX, y: 0 });
  pts.sort((a, b) => a.x - b.x);
  return pts;
}

const framePlugin = {
  id: 'panelFrame',
  afterDatasetsDraw(chart) {
    const { ctx, chartArea: a, scales } = chart;
    const y = scales.y;
    ctx.save();
    ctx.strokeStyle = C_FRAME;
    ctx.lineWidth = 1.5;
    ctx.strokeRect(a.left, a.top, a.right - a.left, a.bottom - a.top);
    ctx.strokeStyle = '#000';
    ctx.lineWidth = 1.5;
    ctx.beginPath();
    ctx.moveTo(a.left, y.getPixelForValue(DO_TICKS[0]));
    ctx.lineTo(a.left, y.getPixelForValue(DO_TICKS[DO_TICKS.length - 1]));
    ctx.moveTo(a.right, y.getPixelForValue(TEMP_TICKS[0]));
    ctx.lineTo(a.right, y.getPixelForValue(TEMP_TICKS[TEMP_TICKS.length - 1]));
    ctx.moveTo(a.left, a.bottom + 1.5);
    ctx.lineTo(a.right, a.bottom + 1.5);
    ctx.stroke();
    ctx.restore();
  }
};

function fixVertical(width) {
  return (s) => {
    s.width = width;
    s.paddingTop = 0;
    s.paddingBottom = 0;
  };
}

function buildConfig(p, col, row) {
  const datasets = [];
  datasets.push({
    data: xy(p.dox), borderColor: C_DO, borderWidth: 2.4, pointRadius: 0, tension: 0, order: 0, yAxisID: 'y'
  });
  datasets.push({
    data: [{ x: p.ice[0], y: ICE_Y }, { x: p.ice[1], y: ICE_Y }], borderColor: C_ICE_DARK, borderWidth: 7.5,
    borderCapStyle: 'butt', pointRadius: 0, order: 1, yAxisID: 'y'
  });
  if (p.ice[2] > p.ice[1]) {
    datasets.push({
      data: [{ x: p.ice[1], y: ICE_Y }, { x: p.ice[2], y: ICE_Y }], borderColor: C_ICE_LIGHT, borderWidth: 7.5,
      borderCapStyle: 'butt', pointRadius: 0, order: 1, yAxisID: 'y'
    });
  }
  datasets.push({
    data: spikeSeries(p.spikes), borderColor: 'rgba(0,0,0,0)', borderWidth: 0.5, backgroundColor: C_SPIKE,
    fill: 'origin', pointRadius: 0, tension: 0, order: 2, yAxisID: 'yp'
  });
  p.dark.forEach((ln) => datasets.push({
    data: xy(ln), borderColor: C_DARK, borderWidth: 2.2, pointRadius: 0, tension: 0, order: 3, yAxisID: 'y'
  }));
  p.light.forEach((ln) => datasets.push({
    data: xy(ln), borderColor: C_LIGHT, borderWidth: 2.2, pointRadius: 0, tension: 0, order: 4, yAxisID: 'y'
  }));

  const showY = col === 0;
  const showY2 = col === 2;
  const showX = row === 4;
  const tickGrid = { drawOnChartArea: false, drawTicks: true, tickColor: '#000', tickWidth: 1.5 };

  return {
    type: 'line',
    data: { datasets },
    plugins: [framePlugin],
    options: {
      animation: false,
      responsive: false,
      devicePixelRatio: 1,
      events: [],
      layout: { padding: { top: MT, left: 0, right: 0, bottom: 0 }, autoPadding: false },
      plugins: { legend: { display: false }, tooltip: { enabled: false }, title: { display: false } },
      scales: {
        x: {
          type: 'linear', position: 'bottom', min: XMIN, max: XMAX, bounds: 'data',
          afterBuildTicks: (s) => { s.ticks = MONTH_TICKS.map((v) => ({ value: v })); },
          afterFit: (s) => { s.height = MB; s.paddingLeft = 0; s.paddingRight = 0; },
          ticks: {
            autoSkip: false, maxRotation: 0, minRotation: 0, padding: 11, color: '#000',
            font: { family: FONT, size: 21 },
            callback: (v, i) => (showX ? MONTH_LABELS[i] : '')
          },
          grid: { ...tickGrid, tickLength: 11 },
          border: { display: false }
        },
        y: {
          type: 'linear', position: 'left', min: YMIN, max: YMAX, bounds: 'data',
          afterBuildTicks: (s) => { s.ticks = DO_TICKS.map((v) => ({ value: v })); },
          afterFit: fixVertical(ML),
          ticks: {
            padding: 12, color: '#000', font: { family: FONT, size: 20 },
            callback: (v) => (showY ? String(v) : '')
          },
          grid: { ...tickGrid, tickLength: 12 },
          border: { display: false }
        },
        y2: {
          type: 'linear', position: 'right', min: YMIN, max: YMAX, bounds: 'data',
          afterBuildTicks: (s) => { s.ticks = TEMP_TICKS.map((v) => ({ value: v })); },
          afterFit: fixVertical(MR),
          ticks: {
            padding: 13, color: '#000', font: { family: FONT, size: 20 },
            callback: (v) => (showY2 ? String(v) : '')
          },
          grid: { ...tickGrid, tickLength: 12 },
          border: { display: false }
        },
        yp: { type: 'linear', display: false, min: 0, max: SPIKE_MAX }
      }
    }
  };
}

function Panel({ p, col, row }) {
  const ref = useRef(null);
  useEffect(() => {
    const chart = new Chart(ref.current, buildConfig(p, col, row));
    return () => chart.destroy();
  }, [p, col, row]);
  const w = ML + PW + MR;
  const h = MT + PH + MB;
  return (
    <canvas
      ref={ref}
      width={w}
      height={h}
      style={{ position: 'absolute', left: COL_LEFT[col] - ML, top: ROW_TOP[row] - MT, width: w, height: h }}
    />
  );
}

const TITLE_SIZE = 27.5;

export default function App() {
  return (
    <div style={{ position: 'absolute', left: 0, top: 0, width: 1335, height: 1141, background: '#fff', overflow: 'hidden', fontFamily: FONT }}>
      {PANELS.map((p, i) => (
        <Panel key={p.name} p={p} col={i % 3} row={Math.floor(i / 3)} />
      ))}
      {PANELS.map((p, i) => {
        const col = i % 3;
        const row = Math.floor(i / 3);
        return (
          <div
            key={'t' + p.name}
            style={{
              position: 'absolute', left: COL_LEFT[col], width: PW, top: ROW_TOP[row] + 17.2,
              textAlign: 'center', fontSize: TITLE_SIZE, lineHeight: 1, color: '#000', whiteSpace: 'nowrap'
            }}
          >
            {p.name}
          </div>
        );
      })}
      <div
        style={{
          position: 'absolute', left: 36, top: 563, transform: 'translate(-50%, -50%) rotate(-90deg)',
          fontSize: 36, lineHeight: 1, whiteSpace: 'nowrap', color: '#000'
        }}
      >
        DO (mg L<span style={{ fontSize: '0.68em', position: 'relative', top: '-0.6em' }}>−1</span>)
      </div>
      <div
        style={{
          position: 'absolute', left: 1304, top: 562, transform: 'translate(-50%, -50%) rotate(-90deg)',
          fontSize: 37, lineHeight: 1, whiteSpace: 'nowrap', color: '#000'
        }}
      >
        Temperature (° C)
      </div>
    </div>
  );
}
